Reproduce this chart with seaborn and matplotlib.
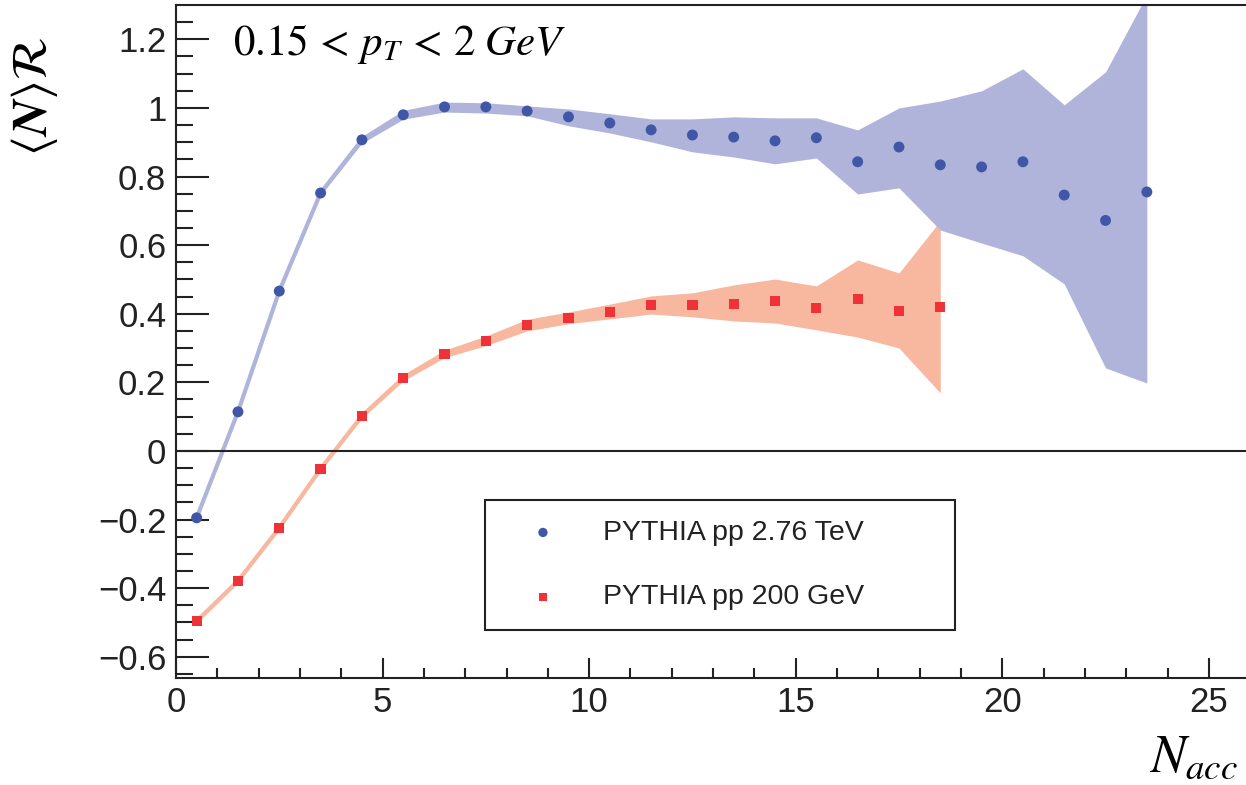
import numpy as np
import pandas as pd
import matplotlib
matplotlib.use("Agg")
import matplotlib.pyplot as plt
import seaborn as sns

# ---------------- data ----------------
x_276 = [0.5, 1.5, 2.5, 3.5, 4.5, 5.5, 6.5, 7.5, 8.5, 9.5, 10.5, 11.5,
         12.5, 13.5, 14.5, 15.5, 16.5, 17.5, 18.5, 19.5, 20.5, 21.5, 22.5, 23.5]
y_276 = [-0.195, 0.114, 0.466, 0.752, 0.907, 0.980, 1.003, 1.003, 0.991, 0.974,
         0.956, 0.936, 0.921, 0.915, 0.904, 0.913, 0.843, 0.886, 0.834, 0.828,
         0.843, 0.746, 0.672, 0.755]
hi_276 = [-0.190, 0.119, 0.471, 0.758, 0.917, 0.993, 1.017, 1.015, 1.006, 0.997,
          0.983, 0.968, 0.968, 0.974, 0.971, 0.971, 0.936, 1.000, 1.020, 1.050,
          1.114, 1.009, 1.105, 1.330]
lo_276 = [-0.200, 0.109, 0.461, 0.746, 0.897, 0.967, 0.988, 0.985, 0.977, 0.948,
          0.927, 0.901, 0.872, 0.857, 0.837, 0.854, 0.749, 0.767, 0.644, 0.606,
          0.569, 0.487, 0.242, 0.198]

x_200 = [0.5, 1.5, 2.5, 3.5, 4.5, 5.5, 6.5, 7.5, 8.5, 9.5, 10.5, 11.5,
         12.5, 13.5, 14.5, 15.5, 16.5, 17.5, 18.5]
y_200 = [-0.496, -0.379, -0.224, -0.052, 0.102, 0.213, 0.283, 0.321, 0.367, 0.388,
         0.405, 0.426, 0.426, 0.429, 0.437, 0.417, 0.443, 0.408, 0.420]
hi_200 = [-0.490, -0.373, -0.218, -0.046, 0.109, 0.222, 0.294, 0.335, 0.384, 0.405,
          0.428, 0.452, 0.461, 0.484, 0.501, 0.481, 0.557, 0.519, 0.671]
lo_200 = [-0.502, -0.385, -0.230, -0.058, 0.095, 0.204, 0.272, 0.307, 0.350, 0.371,
          0.385, 0.399, 0.391, 0.379, 0.373, 0.353, 0.332, 0.300, 0.169]

labels = ["PYTHIA pp 2.76 TeV", "PYTHIA pp 200 GeV"]
xticks = [0, 5, 10, 15, 20, 25]
xtick_labels = ["0", "5", "10", "15", "20", "25"]
yticks = [-0.6, -0.4, -0.2, 0.0, 0.2, 0.4, 0.6, 0.8, 1.0, 1.2]
ytick_labels = ["\u22120.6", "\u22120.4", "\u22120.2", "0", "0.2", "0.4", "0.6", "0.8", "1", "1.2"]

df276 = pd.DataFrame({"x": x_276, "y": y_276, "hi": hi_276, "lo": lo_276})
df200 = pd.DataFrame({"x": x_200, "y": y_200, "hi": hi_200, "lo": lo_200})

# ---------------- style ----------------
sns.set_style("ticks")
plt.rcParams["font.family"] = ["Liberation Sans", "DejaVu Sans"]
plt.rcParams["mathtext.fontset"] = "stix"

BLUE = "#3F57A6"
BLUE_BAND = "#B0B4DA"
RED = "#EE3238"
RED_BAND = "#F8B8A0"
INK = "#222222"

fig = plt.figure(figsize=(12.46, 7.85), dpi=100)
ax = fig.add_axes([0.14125, 0.1363, 1 - 0.14125, 0.9936 - 0.1363])

# bands
ax.fill_between(df200["x"], df200["lo"], df200["hi"], color=RED_BAND, lw=0, zorder=1)
sns.lineplot(data=df200, x="x", y="y", ax=ax, color=RED_BAND, lw=3, legend=False, zorder=1)
ax.fill_between(df276["x"], df276["lo"], df276["hi"], color=BLUE_BAND, lw=0, zorder=2)
sns.lineplot(data=df276, x="x", y="y", ax=ax, color=BLUE_BAND, lw=3, legend=False, zorder=2)

ax.axhline(0, color=INK, lw=1.5, zorder=3)

# points
sns.scatterplot(data=df276, x="x", y="y", ax=ax, marker="o", s=62, color=BLUE,
                edgecolor="none", label=labels[0], zorder=5)
sns.scatterplot(data=df200, x="x", y="y", ax=ax, marker="s", s=54, color=RED,
                edgecolor="none", label=labels[1], zorder=5)

ax.set_xlim(0, 25.9)
ax.set_ylim(-0.662, 1.300)
ax.set_xlabel("")
ax.set_ylabel("")

ax.set_xticks(xticks, labels=xtick_labels)
ax.set_xticks(np.arange(0, 26, 1), minor=True)
ax.set_yticks(yticks, labels=ytick_labels)
ax.set_yticks(np.arange(-0.65, 1.30, 0.05), minor=True)

ax.tick_params(axis="y", which="major", direction="in", length=23.8, width=1.5,
               labelsize=25, pad=7, color=INK, labelcolor=INK)
ax.tick_params(axis="y", which="minor", direction="in", length=12, width=1.5, color=INK)
ax.tick_params(axis="x", which="major", direction="in", length=14.4, width=1.5,
               labelsize=25, pad=6, color=INK, labelcolor=INK)
ax.tick_params(axis="x", which="minor", direction="in", length=7.2, width=1.5, color=INK)
ax.tick_params(top=False, right=False, which="both")

for side in ["top", "left", "bottom"]:
    ax.spines[side].set_color(INK)
    ax.spines[side].set_linewidth(1.5)
ax.spines["right"].set_visible(False)

leg = ax.legend(loc="upper left", bbox_to_anchor=(0.2888, 0.0758, 0.4392, 0.1887),
                mode="expand", borderaxespad=0, fancybox=False, edgecolor=INK,
                framealpha=1, fontsize=20.5, handlelength=2.67, handletextpad=0.77,
                borderpad=0.7, labelspacing=1.35, markerscale=0.85)
leg.get_frame().set_linewidth(1.5)
for t in leg.get_texts():
    t.set_color(INK)

ax.text(0.0533, 0.9257, r"$0.15\,<\,p_T\,<\,2\ GeV$", transform=ax.transAxes,
        fontsize=31, va="baseline", ha="left", color="black")

fig.text(34 / 1246, 1 - 97 / 785, r"$\langle \mathbfit{N} \rangle \mathcal{R}$",
         rotation=90, ha="center", va="center", fontsize=36, color="black")
fig.text(1238 / 1246, 13 / 785, r"$N_{acc}$", ha="right", va="baseline",
         fontsize=38, color="black")

fig.savefig("out.png", dpi=100)
